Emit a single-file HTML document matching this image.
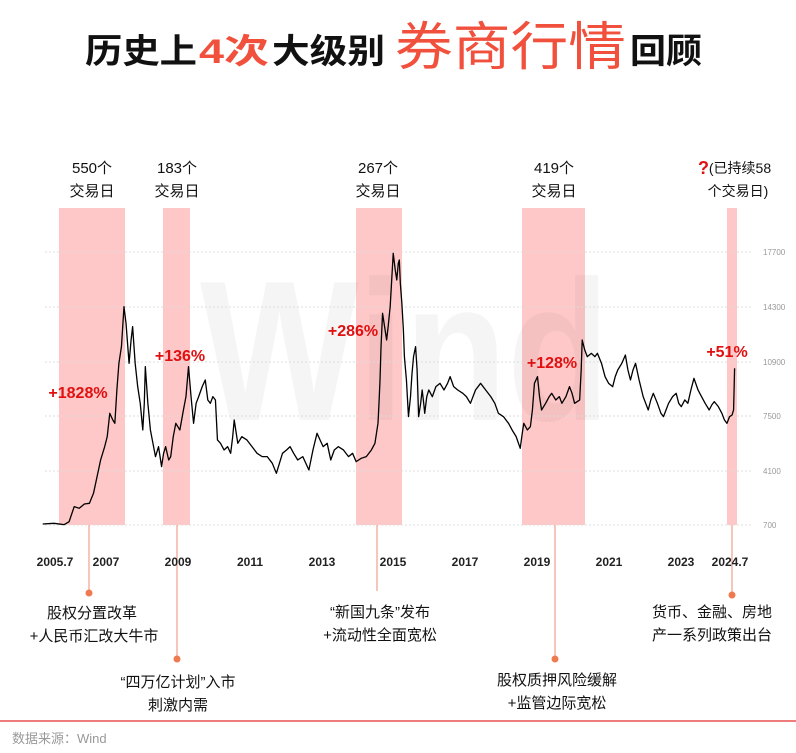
<!DOCTYPE html>
<html><head><meta charset="utf-8"><style>
html,body{margin:0;padding:0;background:#fff;}
svg{display:block;font-family:"Liberation Sans","Noto Sans CJK SC",sans-serif;}
</style></head><body>
<svg width="796" height="753" viewBox="0 0 796 753" xmlns="http://www.w3.org/2000/svg">
<rect width="796" height="753" fill="#fff"/>
<text x="85" y="63" font-size="34" font-weight="bold" fill="#111" textLength="112" lengthAdjust="spacingAndGlyphs">历史上</text>
<text x="199" y="63" font-size="34" font-weight="bold" fill="#f0503c" textLength="70" lengthAdjust="spacingAndGlyphs">4次</text>
<text x="272" y="63" font-size="34" font-weight="bold" fill="#111" textLength="113" lengthAdjust="spacingAndGlyphs">大级别</text>
<text x="395" y="65" font-size="52" fill="#f0503c" textLength="231" lengthAdjust="spacingAndGlyphs">券商行情</text>
<text x="630" y="63" font-size="34" font-weight="bold" fill="#111" textLength="72" lengthAdjust="spacingAndGlyphs">回顾</text>
<g font-size="15" fill="#111" text-anchor="middle">
<text x="92" y="173">550个</text><text x="92" y="196">交易日</text>
<text x="177" y="173">183个</text><text x="177" y="196">交易日</text>
<text x="378" y="173">267个</text><text x="378" y="196">交易日</text>
<text x="554" y="173">419个</text><text x="554" y="196">交易日</text>
<text x="740" y="173" font-size="14">(已持续58</text><text x="738" y="196" font-size="14">个交易日)</text>
</g>
<text x="698" y="174" font-size="18" font-weight="bold" fill="#e01010">?</text>
<g fill="#ffc8c8">
<rect x="59" y="208" width="66" height="317"/>
<rect x="163" y="208" width="27" height="317"/>
<rect x="356" y="208" width="46" height="317"/>
<rect x="522" y="208" width="63" height="317"/>
<rect x="727" y="208" width="10" height="317"/>
</g>
<text x="200" y="420" font-size="200" font-weight="bold" fill="#000" fill-opacity="0.04" textLength="410" lengthAdjust="spacingAndGlyphs">Wind</text>
<g stroke="#ddd" stroke-width="1" stroke-dasharray="2,2">
<line x1="45" y1="252" x2="752" y2="252"/><line x1="45" y1="307" x2="752" y2="307"/>
<line x1="45" y1="362" x2="752" y2="362"/><line x1="45" y1="416" x2="752" y2="416"/>
<line x1="45" y1="471" x2="752" y2="471"/><line x1="45" y1="525" x2="752" y2="525"/>
</g>
<g font-size="8" fill="#999">
<text x="763" y="255">17700</text><text x="763" y="310">14300</text><text x="763" y="365">10900</text>
<text x="763" y="419">7500</text><text x="763" y="474">4100</text><text x="763" y="528">700</text>
</g>
<g transform="translate(-2,230) scale(0.508,0.3333)">
<polyline fill="none" stroke="#000" stroke-width="1.3" vector-effect="non-scaling-stroke" stroke-linejoin="round" points="88,882 110,880 130,884 140,875 150,830 160,835 170,822 180,820 188,790 195,740 202,690 210,650 215,620 220,550 226,570 230,580 234,480 238,400 243,350 248,230 252,280 258,400 262,330 265,290 270,400 275,470 280,520 285,600 288,520 290,410 295,520 300,600 305,640 310,680 316,650 322,710 326,670 330,650 336,690 340,680 345,620 350,580 358,600 365,540 370,500 375,410 380,500 385,580 390,520 395,500 402,470 408,450 413,510 418,520 423,500 428,510 432,630 438,640 445,660 452,650 458,670 462,620 465,570 470,620 472,640 480,620 490,630 500,650 510,670 520,680 530,680 540,700 548,730 554,700 560,670 568,660 575,650 582,670 590,690 600,680 612,720 620,660 628,610 634,630 640,650 648,640 655,690 662,660 670,650 680,660 690,680 698,670 705,695 715,685 725,680 735,660 742,640 745,610 748,580 750,520 752,450 754,350 757,250 761,290 765,330 768,290 772,230 775,150 778,70 782,120 785,150 788,100 790,90 792,160 795,220 798,300 800,380 804,450 808,560 812,500 815,430 818,380 822,350 825,420 828,560 832,520 835,480 838,520 840,550 844,500 848,480 855,500 862,470 870,460 878,480 885,460 890,440 897,470 905,480 915,490 922,500 930,520 940,480 950,460 960,480 970,500 978,520 985,550 995,560 1005,580 1012,600 1020,620 1028,655 1032,610 1035,580 1042,600 1048,590 1052,540 1056,460 1062,440 1066,500 1070,540 1078,520 1085,500 1090,490 1098,510 1105,500 1110,520 1118,500 1125,470 1130,490 1135,520 1140,515 1145,510 1148,420 1150,330 1155,360 1160,380 1168,370 1175,380 1180,370 1188,400 1195,440 1202,460 1210,470 1215,440 1220,420 1228,400 1235,375 1240,420 1245,450 1250,420 1255,400 1262,450 1270,500 1275,520 1280,540 1285,510 1290,490 1298,520 1305,550 1310,560 1315,540 1320,520 1328,500 1335,490 1340,520 1345,530 1352,510 1358,520 1364,480 1370,445 1378,480 1385,500 1392,520 1400,540 1405,525 1410,515 1418,530 1425,550 1430,570 1435,580 1440,560 1445,555 1448,540 1450,415"/>
</g>
<g font-size="16" font-weight="bold" fill="#e01010" text-anchor="middle">
<text x="78" y="398">+1828%</text><text x="180" y="361">+136%</text>
<text x="353" y="336">+286%</text><text x="552" y="368">+128%</text><text x="727" y="357">+51%</text>
</g>
<g stroke="#f0a090" stroke-width="1.2">
<line x1="89" y1="525" x2="89" y2="593"/><line x1="177" y1="525" x2="177" y2="659"/>
<line x1="377" y1="525" x2="377" y2="591"/><line x1="555" y1="525" x2="555" y2="659"/>
<line x1="732" y1="525" x2="732" y2="595"/>
</g>
<g fill="#f07a50">
<circle cx="89" cy="593" r="3.5"/><circle cx="177" cy="659" r="3.5"/>
<circle cx="555" cy="659" r="3.5"/><circle cx="732" cy="595" r="3.5"/>
</g>
<g font-size="12" font-weight="bold" fill="#222" text-anchor="middle">
<text x="55" y="566">2005.7</text><text x="106" y="566">2007</text><text x="178" y="566">2009</text>
<text x="250" y="566">2011</text><text x="322" y="566">2013</text><text x="393" y="566">2015</text>
<text x="465" y="566">2017</text><text x="537" y="566">2019</text><text x="609" y="566">2021</text>
<text x="681" y="566">2023</text><text x="730" y="566">2024.7</text>
</g>
<g font-size="15" fill="#111" text-anchor="middle">
<text x="92" y="618">股权分置改革</text><text x="94" y="641">+人民币汇改大牛市</text>
<text x="178" y="687">“四万亿计划”入市</text><text x="178" y="710">刺激内需</text>
<text x="380" y="617">“新国九条”发布</text><text x="380" y="640">+流动性全面宽松</text>
<text x="557" y="685">股权质押风险缓解</text><text x="557" y="708">+监管边际宽松</text>
<text x="712" y="617">货币、金融、房地</text><text x="712" y="640">产一系列政策出台</text>
</g>
<line x1="0" y1="721" x2="796" y2="721" stroke="#e85050" stroke-width="1.5"/>
<text x="12" y="743" font-size="13" fill="#999">数据来源：Wind</text>
</svg>
</body></html>
